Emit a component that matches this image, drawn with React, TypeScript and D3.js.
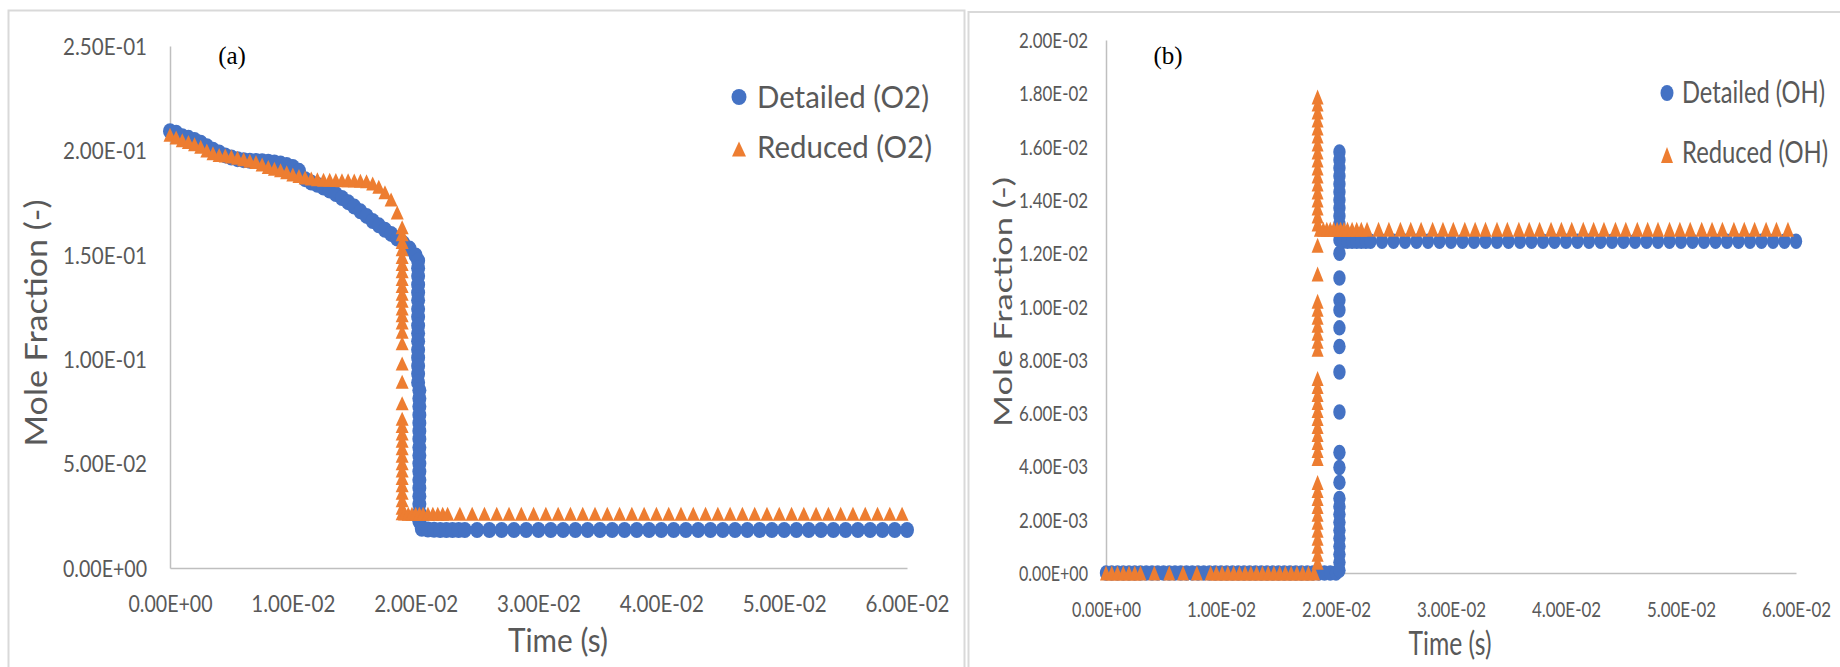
import React, { useEffect, useRef } from 'react';
import * as d3 from 'd3';

// tick values + the Excel style labels
const timeTicks = [0, 0.01, 0.02, 0.03, 0.04, 0.05, 0.06];
const timeTickLabels = ['0.00E+00', '1.00E-02', '2.00E-02', '3.00E-02', '4.00E-02', '5.00E-02', '6.00E-02'];
const o2Ticks = [0, 0.05, 0.1, 0.15, 0.2, 0.25];
const o2TickLabels = ['0.00E+00', '5.00E-02', '1.00E-01', '1.50E-01', '2.00E-01', '2.50E-01'];
const ohTicks = [0, 0.002, 0.004, 0.006, 0.008, 0.01, 0.012, 0.014, 0.016, 0.018, 0.02];
const ohTickLabels = ['0.00E+00', '2.00E-03', '4.00E-03', '6.00E-03', '8.00E-03', '1.00E-02', '1.20E-02', '1.40E-02', '1.60E-02', '1.80E-02', '2.00E-02'];

// [time (s), mole fraction]
const o2Detailed: [number, number][] = [
  [0, 0.2092], [0.0005, 0.2085], [0.001, 0.2068], [0.0015, 0.206], [0.002, 0.205], [0.0025, 0.2037], [0.003, 0.202], [0.0035, 0.2003], [0.004, 0.199], [0.0045, 0.1976],
  [0.005, 0.1966], [0.0055, 0.1958], [0.006, 0.1953], [0.0065, 0.195], [0.007, 0.1949], [0.0075, 0.1948], [0.008, 0.1946], [0.0085, 0.1942], [0.009, 0.1937], [0.0095, 0.193],
  [0.01, 0.1921], [0.0105, 0.1902], [0.011, 0.1862], [0.0115, 0.1846], [0.012, 0.1835], [0.0125, 0.1822], [0.013, 0.1808], [0.0135, 0.1791], [0.014, 0.1772], [0.0145, 0.1752],
  [0.015, 0.1731], [0.0155, 0.1708], [0.016, 0.1686], [0.0165, 0.1662], [0.017, 0.1641], [0.0175, 0.162], [0.018, 0.16], [0.0185, 0.1578], [0.019, 0.1555], [0.0195, 0.153],
  [0.02, 0.1497],
  [0.0202, 0.1472], [0.0202, 0.1436], [0.0202, 0.1398], [0.0202, 0.1357], [0.0202, 0.1319], [0.0202, 0.1282], [0.0202, 0.124], [0.0202, 0.1203],
  [0.0202, 0.1161], [0.0202, 0.1124], [0.0202, 0.1086], [0.0202, 0.1045], [0.0202, 0.1007], [0.0202, 0.0968], [0.0202, 0.093], [0.0202, 0.0889],
  [0.0203, 0.0851], [0.0203, 0.0812], [0.0203, 0.0774], [0.0203, 0.0733], [0.0203, 0.0695], [0.0203, 0.0656], [0.0203, 0.0618], [0.0203, 0.0577],
  [0.0203, 0.0539], [0.0203, 0.05], [0.0203, 0.0462], [0.0203, 0.0421], [0.0203, 0.0383], [0.0203, 0.0344], [0.0203, 0.0306], [0.0203, 0.0265], [0.0203, 0.0224],
  [0.0205, 0.0188], [0.021, 0.0184], [0.0215, 0.0183], [0.022, 0.0182], [0.0225, 0.0182], [0.023, 0.0182], [0.0235, 0.0182], [0.024, 0.0182],
  [0.025, 0.0182], [0.026, 0.0182], [0.027, 0.0182], [0.028, 0.0182], [0.029, 0.0182], [0.03, 0.0182], [0.031, 0.0182], [0.032, 0.0182], [0.033, 0.0182], [0.034, 0.0182],
  [0.035, 0.0182], [0.036, 0.0182], [0.037, 0.0182], [0.038, 0.0182], [0.039, 0.0182], [0.04, 0.0182], [0.041, 0.0182], [0.042, 0.0182], [0.043, 0.0182], [0.044, 0.0182],
  [0.045, 0.0182], [0.046, 0.0182], [0.047, 0.0182], [0.048, 0.0182], [0.049, 0.0182], [0.05, 0.0182], [0.051, 0.0182], [0.052, 0.0182], [0.053, 0.0182], [0.054, 0.0182],
  [0.055, 0.0182], [0.056, 0.0182], [0.057, 0.0182], [0.058, 0.0182], [0.059, 0.0182], [0.06, 0.0182],
];

const o2Reduced: [number, number][] = [
  [0, 0.2075], [0.0005, 0.2062], [0.001, 0.2049], [0.0015, 0.204], [0.002, 0.2029], [0.0025, 0.2017], [0.003, 0.2], [0.0035, 0.1986], [0.004, 0.1978], [0.0045, 0.1975],
  [0.005, 0.1971], [0.0055, 0.1965], [0.006, 0.1958], [0.0065, 0.1951], [0.007, 0.1944], [0.0075, 0.1932], [0.008, 0.1921], [0.0085, 0.1912], [0.009, 0.1905], [0.0095, 0.1895],
  [0.01, 0.1885], [0.0105, 0.1877], [0.011, 0.187], [0.0115, 0.1866], [0.012, 0.1862], [0.0125, 0.186], [0.013, 0.1859], [0.0135, 0.1858], [0.014, 0.1857], [0.0145, 0.1857],
  [0.015, 0.1856], [0.0155, 0.1855], [0.016, 0.1852], [0.0165, 0.1841], [0.017, 0.1826], [0.0175, 0.18], [0.018, 0.1765], [0.0185, 0.1702],
  [0.0189, 0.1632], [0.0189, 0.1598], [0.0189, 0.1561], [0.0189, 0.1527], [0.0189, 0.149], [0.0189, 0.1456], [0.0189, 0.1421], [0.0189, 0.1384],
  [0.0189, 0.135], [0.0189, 0.1314], [0.0189, 0.128], [0.0189, 0.1243], [0.0189, 0.121], [0.0189, 0.1176], [0.0189, 0.1132], [0.0189, 0.1076],
  [0.0189, 0.098], [0.0189, 0.0892], [0.0189, 0.0789], [0.0189, 0.0715], [0.0189, 0.068], [0.0189, 0.0644], [0.0189, 0.0609], [0.0189, 0.0573],
  [0.0189, 0.0538], [0.0189, 0.0502], [0.0189, 0.0467], [0.0189, 0.0431], [0.0189, 0.0396], [0.0189, 0.036], [0.0189, 0.0325], [0.0189, 0.0289], [0.0189, 0.0262],
  [0.0191, 0.0261], [0.0194, 0.026], [0.0197, 0.026], [0.02, 0.026], [0.0203, 0.026], [0.0206, 0.026], [0.021, 0.026], [0.0214, 0.026], [0.0218, 0.026], [0.0222, 0.026], [0.0226, 0.026],
  [0.0236, 0.026], [0.0246, 0.026], [0.0256, 0.026], [0.0266, 0.026], [0.0276, 0.026], [0.0286, 0.026], [0.0296, 0.026], [0.0306, 0.026], [0.0316, 0.026], [0.0326, 0.026],
  [0.0336, 0.026], [0.0346, 0.026], [0.0356, 0.026], [0.0366, 0.026], [0.0376, 0.026], [0.0386, 0.026], [0.0396, 0.026], [0.0406, 0.026], [0.0416, 0.026], [0.0426, 0.026],
  [0.0436, 0.026], [0.0446, 0.026], [0.0456, 0.026], [0.0466, 0.026], [0.0476, 0.026], [0.0486, 0.026], [0.0496, 0.026], [0.0506, 0.026], [0.0516, 0.026], [0.0526, 0.026],
  [0.0536, 0.026], [0.0546, 0.026], [0.0556, 0.026], [0.0566, 0.026], [0.0576, 0.026], [0.0586, 0.026], [0.0596, 0.026],
];

const ohDetailed: [number, number][] = [
  [0, 0], [0.0005, 0], [0.001, 0], [0.0015, 0], [0.002, 0], [0.0025, 0], [0.003, 0], [0.0035, 0], [0.004, 0], [0.0045, 0],
  [0.005, 0], [0.0055, 0], [0.006, 0], [0.0065, 0], [0.007, 0], [0.0075, 0], [0.008, 0], [0.0085, 0], [0.009, 0], [0.0095, 0],
  [0.01, 0], [0.0105, 0], [0.011, 0], [0.0115, 0], [0.012, 0], [0.0125, 0], [0.013, 0], [0.0135, 0], [0.014, 0], [0.0145, 0],
  [0.015, 0], [0.0155, 0], [0.016, 0], [0.0165, 0], [0.017, 0], [0.0175, 0], [0.018, 0], [0.0185, 0], [0.019, 0], [0.0195, 0], [0.02, 0],
  [0.0203, 0.0158], [0.0203, 0.0155], [0.0203, 0.0152], [0.0203, 0.0149], [0.0203, 0.0146], [0.0203, 0.0143], [0.0203, 0.014], [0.0203, 0.0137],
  [0.0203, 0.0134], [0.0203, 0.0131], [0.0203, 0.0128], [0.0203, 0.0125], [0.0203, 0.012], [0.0203, 0.01107], [0.0203, 0.01024], [0.0203, 0.00987],
  [0.0203, 0.0092], [0.0203, 0.0085], [0.0203, 0.00754], [0.0203, 0.00604], [0.0203, 0.00452], [0.0203, 0.00396], [0.0203, 0.0034], [0.0203, 0.0028],
  [0.0203, 0.0025], [0.0203, 0.0022], [0.0203, 0.0019], [0.0203, 0.0016], [0.0203, 0.0013], [0.0203, 0.001], [0.0203, 0.0007], [0.0203, 0.0004], [0.0203, 0.0001],
  [0.0206, 0.01245], [0.021, 0.01245], [0.0214, 0.01245], [0.0218, 0.01245], [0.0222, 0.01245], [0.0226, 0.01245], [0.023, 0.01245], [0.024, 0.01245],
  [0.025, 0.01245], [0.026, 0.01245], [0.027, 0.01245], [0.028, 0.01245], [0.029, 0.01245], [0.03, 0.01245], [0.031, 0.01245], [0.032, 0.01245], [0.033, 0.01245], [0.034, 0.01245],
  [0.035, 0.01245], [0.036, 0.01245], [0.037, 0.01245], [0.038, 0.01245], [0.039, 0.01245], [0.04, 0.01245], [0.041, 0.01245], [0.042, 0.01245], [0.043, 0.01245], [0.044, 0.01245],
  [0.045, 0.01245], [0.046, 0.01245], [0.047, 0.01245], [0.048, 0.01245], [0.049, 0.01245], [0.05, 0.01245], [0.051, 0.01245], [0.052, 0.01245], [0.053, 0.01245], [0.054, 0.01245],
  [0.055, 0.01245], [0.056, 0.01245], [0.057, 0.01245], [0.058, 0.01245], [0.059, 0.01245], [0.06, 0.01245],
];

const ohReduced: [number, number][] = [
  [0, 0], [0.0005, 0], [0.001, 0], [0.0015, 0], [0.002, 0], [0.0025, 0], [0.003, 0], [0.0042, 0], [0.0055, 0], [0.0067, 0],
  [0.0079, 0], [0.0091, 0], [0.0096, 0], [0.0101, 0], [0.0106, 0], [0.0111, 0], [0.0116, 0], [0.0121, 0], [0.0126, 0], [0.0131, 0],
  [0.0136, 0], [0.0141, 0], [0.0146, 0], [0.0151, 0], [0.0156, 0], [0.0161, 0], [0.0166, 0], [0.0171, 0], [0.0176, 0], [0.0181, 0],
  [0.0184, 0.01786], [0.0184, 0.0176], [0.0184, 0.0173], [0.0184, 0.017], [0.0184, 0.0167], [0.0184, 0.0164], [0.0184, 0.0161], [0.0184, 0.0158],
  [0.0184, 0.0155], [0.0184, 0.0152], [0.0184, 0.0149], [0.0184, 0.0146], [0.0184, 0.0143], [0.0184, 0.014], [0.0184, 0.0137], [0.0184, 0.0134], [0.0184, 0.0131],
  [0.0184, 0.0123], [0.0184, 0.01122],
  [0.0184, 0.0102], [0.0184, 0.0099], [0.0184, 0.0096], [0.0184, 0.0093], [0.0184, 0.009], [0.0184, 0.0087], [0.0184, 0.0084],
  [0.0184, 0.0073], [0.0184, 0.007], [0.0184, 0.0067], [0.0184, 0.0064], [0.0184, 0.0061], [0.0184, 0.0058], [0.0184, 0.0055], [0.0184, 0.0052],
  [0.0184, 0.0049], [0.0184, 0.0046], [0.0184, 0.0043],
  [0.0184, 0.0034], [0.0184, 0.0031], [0.0184, 0.0028], [0.0184, 0.0025], [0.0184, 0.0022], [0.0184, 0.0019], [0.0184, 0.0016], [0.0184, 0.0013],
  [0.0184, 0.001], [0.0184, 0.0007], [0.0184, 0.0004],
  [0.0186, 0.0129], [0.0189, 0.0129], [0.0192, 0.0129], [0.0195, 0.0129], [0.0198, 0.0129], [0.0201, 0.0129], [0.0204, 0.0129], [0.0207, 0.0129],
  [0.021, 0.0129], [0.0214, 0.0129], [0.0218, 0.0129], [0.0222, 0.0129], [0.0227, 0.0129],
  [0.0237, 0.0129], [0.0246, 0.0129], [0.0256, 0.0129], [0.0265, 0.0129], [0.0274, 0.0129], [0.0284, 0.0129], [0.0293, 0.0129], [0.0302, 0.0129], [0.0312, 0.0129], [0.0321, 0.0129],
  [0.033, 0.0129], [0.034, 0.0129], [0.0349, 0.0129], [0.0359, 0.0129], [0.0368, 0.0129], [0.0377, 0.0129], [0.0387, 0.0129], [0.0396, 0.0129], [0.0405, 0.0129], [0.0415, 0.0129],
  [0.0424, 0.0129], [0.0433, 0.0129], [0.0443, 0.0129], [0.0452, 0.0129], [0.0462, 0.0129], [0.0471, 0.0129], [0.048, 0.0129], [0.049, 0.0129], [0.0499, 0.0129], [0.0508, 0.0129],
  [0.0518, 0.0129], [0.0527, 0.0129], [0.0536, 0.0129], [0.0546, 0.0129], [0.0555, 0.0129], [0.0564, 0.0129], [0.0574, 0.0129], [0.0583, 0.0129], [0.0593, 0.0129],
];

const BLUE = '#4472C4';
const ORANGE = '#ED7D31';
const GREY = '#595959';
const FONT = "Lato, 'Open Sans', sans-serif";

const panels = [
  {
    tag: '(a)', tagX: 232, tagY: 64,
    frame: [8.5, 10.5, 956, 700],
    xRange: [170, 907], yDomain: [0, 0.25], yRange: [568, 46],
    yTicks: o2Ticks, yLabels: o2TickLabels,
    tickFont: 23, yTickW: 84, xTickW: 84, yPad: 23, xLabelY: 44,
    circle: [7, 8], tri: [13, 14],
    series: [
      { name: 'Detailed (O2)', data: o2Detailed, color: BLUE, shape: 'circle' },
      { name: 'Reduced (O2)', data: o2Reduced, color: ORANGE, shape: 'tri' },
    ],
    legend: { mx: 739, tx: 757, rows: [[97, 108], [149, 158]], font: 31, widths: [172, 175], circle: [7.5, 8], tri: [14, 15] },
    xTitle: { x: 558, y: 652, font: 32, w: 100 },
    yTitle: { x: 47, y: 323, font: 30, w: 247 },
  },
  {
    tag: '(b)', tagX: 1168, tagY: 64,
    frame: [968.5, 12, 900, 700],
    xRange: [1106, 1796], yDomain: [0, 0.02], yRange: [573, 40],
    yTicks: ohTicks, yLabels: ohTickLabels,
    tickFont: 21, yTickW: 69, xTickW: 69, yPad: 18, xLabelY: 44,
    circle: [6.2, 7.7], tri: [12, 15],
    series: [
      { name: 'Detailed (OH)', data: ohDetailed, color: BLUE, shape: 'circle' },
      { name: 'Reduced (OH)', data: ohReduced, color: ORANGE, shape: 'tri' },
    ],
    legend: { mx: 1667, tx: 1682, rows: [[93, 103], [155, 163]], font: 30, widths: [143, 146], circle: [6.5, 8], tri: [12, 16] },
    xTitle: { x: 1450, y: 655, font: 32, w: 83 },
    yTitle: { x: 1012, y: 302, font: 25, w: 250 },
  },
];

const triPath = (cx: number, cy: number, w: number, h: number) =>
  `M${cx},${cy - h / 2}L${cx + w / 2},${cy + h / 2}L${cx - w / 2},${cy + h / 2}Z`;

function drawPanel(g: any, p: any) {
  const x = d3.scaleLinear().domain([0, 0.06]).range(p.xRange);
  const y = d3.scaleLinear().domain(p.yDomain).range(p.yRange);

  g.append('rect')
    .attr('x', p.frame[0]).attr('y', p.frame[1])
    .attr('width', p.frame[2]).attr('height', p.frame[3])
    .attr('fill', '#fff').attr('stroke', '#d9d9d9').attr('stroke-width', 2);

  const yAxis = d3.axisLeft(y)
    .tickValues(p.yTicks)
    .tickFormat((d: any, i: number) => p.yLabels[i])
    .tickSize(0).tickSizeOuter(0).tickPadding(p.yPad);
  const ya = g.append('g').attr('transform', `translate(${p.xRange[0]},0)`).call(yAxis);

  const xAxis = d3.axisBottom(x)
    .tickValues(timeTicks)
    .tickFormat((d: any, i: number) => timeTickLabels[i])
    .tickSize(0).tickSizeOuter(0);
  const xa = g.append('g').attr('transform', `translate(0,${p.yRange[0]})`).call(xAxis);

  [ya, xa].forEach((a) => {
    a.attr('font-family', FONT).attr('font-size', p.tickFont);
    a.select('.domain').attr('stroke', '#bfbfbf').attr('stroke-width', 1.5);
    a.selectAll('.tick line').remove();
    a.selectAll('text').attr('fill', GREY).attr('lengthAdjust', 'spacingAndGlyphs');
  });
  ya.selectAll('text').attr('dy', '0.36em').attr('textLength', p.yTickW);
  xa.selectAll('text').attr('dy', null).attr('y', p.xLabelY).attr('textLength', p.xTickW);

  p.series.forEach((s: any) => {
    const layer = g.append('g').attr('fill', s.color);
    if (s.shape === 'circle') {
      layer.selectAll('ellipse').data(s.data).join('ellipse')
        .attr('cx', (d: any) => x(d[0])).attr('cy', (d: any) => y(d[1]))
        .attr('rx', p.circle[0]).attr('ry', p.circle[1]);
    } else {
      layer.selectAll('path').data(s.data).join('path')
        .attr('d', (d: any) => triPath(x(d[0]), y(d[1]), p.tri[0], p.tri[1]));
    }
  });

  // legend
  const L = p.legend;
  p.series.forEach((s: any, i: number) => {
    const [my, by] = L.rows[i];
    if (s.shape === 'circle') {
      g.append('ellipse').attr('cx', L.mx).attr('cy', my).attr('rx', L.circle[0]).attr('ry', L.circle[1]).attr('fill', s.color);
    } else {
      g.append('path').attr('d', triPath(L.mx, my, L.tri[0], L.tri[1])).attr('fill', s.color);
    }
    g.append('text').attr('x', L.tx).attr('y', by)
      .attr('font-family', FONT).attr('font-size', L.font).attr('fill', GREY)
      .attr('textLength', L.widths[i]).attr('lengthAdjust', 'spacingAndGlyphs')
      .text(s.name);
  });

  g.append('text').attr('x', p.xTitle.x).attr('y', p.xTitle.y)
    .attr('text-anchor', 'middle').attr('font-family', FONT).attr('font-size', p.xTitle.font)
    .attr('fill', GREY).attr('textLength', p.xTitle.w).attr('lengthAdjust', 'spacingAndGlyphs')
    .text('Time (s)');

  g.append('text').attr('transform', `translate(${p.yTitle.x},${p.yTitle.y}) rotate(-90)`)
    .attr('text-anchor', 'middle').attr('font-family', FONT).attr('font-size', p.yTitle.font)
    .attr('fill', GREY).attr('textLength', p.yTitle.w).attr('lengthAdjust', 'spacingAndGlyphs')
    .text('Mole Fraction (-)');

  g.append('text').attr('x', p.tagX).attr('y', p.tagY).attr('text-anchor', 'middle')
    .attr('font-family', "'Liberation Serif', 'Times New Roman', serif").attr('font-size', 25)
    .attr('fill', '#000').text(p.tag);
}

const App = () => {
  const svgRef = useRef<SVGSVGElement>(null);

  useEffect(() => {
    const svg = d3.select(svgRef.current);
    svg.selectAll('*').remove();
    svg.append('rect').attr('width', 1840).attr('height', 667).attr('fill', '#fff');
    panels.forEach((p) => drawPanel(svg.append('g'), p));
  }, []);

  return (
    <svg
      ref={svgRef}
      width={1840}
      height={667}
      style={{ position: 'absolute', left: 0, top: 0, display: 'block' }}
    />
  );
};

export default App;
